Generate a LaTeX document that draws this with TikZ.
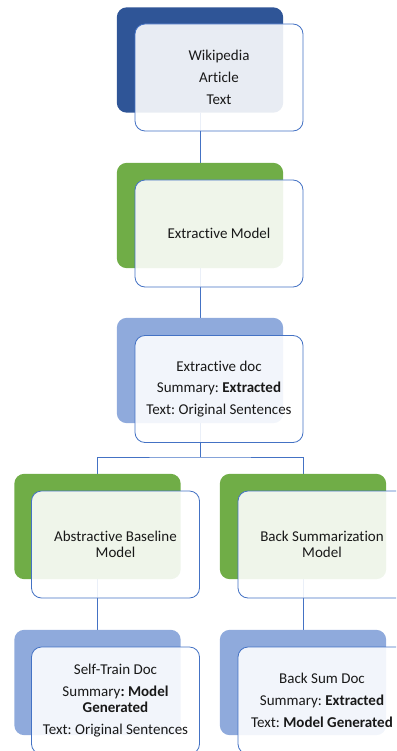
\documentclass[tikz,border=0pt]{standalone}
\usepackage{fontspec}
\setmainfont{Carlito}[Ligatures=CommonOff]
\frenchspacing
\definecolor{dblue}{HTML}{2F5597}
\definecolor{mgreen}{HTML}{70AD47}
\definecolor{lblue}{HTML}{8FAADC}
\definecolor{edgeblue}{HTML}{4472C4}
\tikzset{
  backbox/.style={rounded corners=10pt, minimum width=166pt, minimum height=105pt, inner sep=0pt},
  frontbox/.style={draw=edgeblue, line width=0.8pt, fill=white, fill opacity=0.89, text opacity=1,
    rounded corners=10pt, minimum width=168pt, minimum height=107pt, inner sep=0pt, align=center,
    font=\fontsize{15}{16}\selectfont\frenchspacing, text=black!90},
  conn/.style={draw=edgeblue, line width=0.8pt}
}
\begin{document}
\begin{tikzpicture}[x=1pt,y=-1pt]
\useasboundingbox (0,0) rectangle (396,751);
\clip (0,0) rectangle (396,751);
% back boxes (positions only, drawn after connectors)
\path (200,60) node[backbox] (b1) {};
\path (200,215.5) node[backbox] (b2) {};
\path (200,370.5) node[backbox] (b3) {};
\path (97.5,526.5) node[backbox] (b4) {};
\path (303,526.5) node[backbox] (b5) {};
\path (97.5,682.5) node[backbox] (b6) {};
\path (303,682.5) node[backbox] (b7) {};
\coordinate (j) at (200,457);
% connectors
\draw[conn] (b1.south) -- (b2.north);
\draw[conn] (b2.south) -- (b3.north);
\draw[conn] (b3.south) -- (j);
\draw[conn] (b4.north) |- (j) -| (b5.north);
\draw[conn] (b4.south) -- (b6.north);
\draw[conn] (b5.south) -- (b7.north);
% back fills
\fill[dblue, rounded corners=10pt] (b1.south west) rectangle (b1.north east);
\fill[mgreen, rounded corners=10pt] (b2.south west) rectangle (b2.north east);
\fill[lblue, rounded corners=10pt] (b3.south west) rectangle (b3.north east);
\fill[mgreen, rounded corners=10pt] (b4.south west) rectangle (b4.north east);
\fill[mgreen, rounded corners=10pt] (b5.south west) rectangle (b5.north east);
\fill[lblue, rounded corners=10pt] (b6.south west) rectangle (b6.north east);
\fill[lblue, rounded corners=10pt] (b7.south west) rectangle (b7.north east);
% front boxes
\node[frontbox] (f1) at (219,77.5) {Wikipedia\\[5.7pt]Article\\[5.7pt]Text};
\node[frontbox] (f2) at (219,233.5) {Extractive Model};
\node[frontbox] (f3) at (219,389) {Extractive doc\\[5.7pt]Summary: \textbf{Extracted}\\[5.7pt]Text: Original Sentences};
\node[frontbox] (f4) at (115.5,544.5) {Abstractive Baseline\\Model};
\node[frontbox] (f5) at (322,544.5) {Back Summarization\\Model};
\node[frontbox] (f6) at (115.5,700.5) {Self-Train Doc\\[5.7pt]Summary\textbf{: Model}\\\textbf{Generated}\\[5.7pt]Text: Original Sentences};
\node[frontbox] (f7) at (322,700.5) {Back Sum Doc\\[5.7pt]Summary: \textbf{Extracted}\\[5.7pt]Text: \textbf{Model Generated}};
\end{tikzpicture}
\end{document}
